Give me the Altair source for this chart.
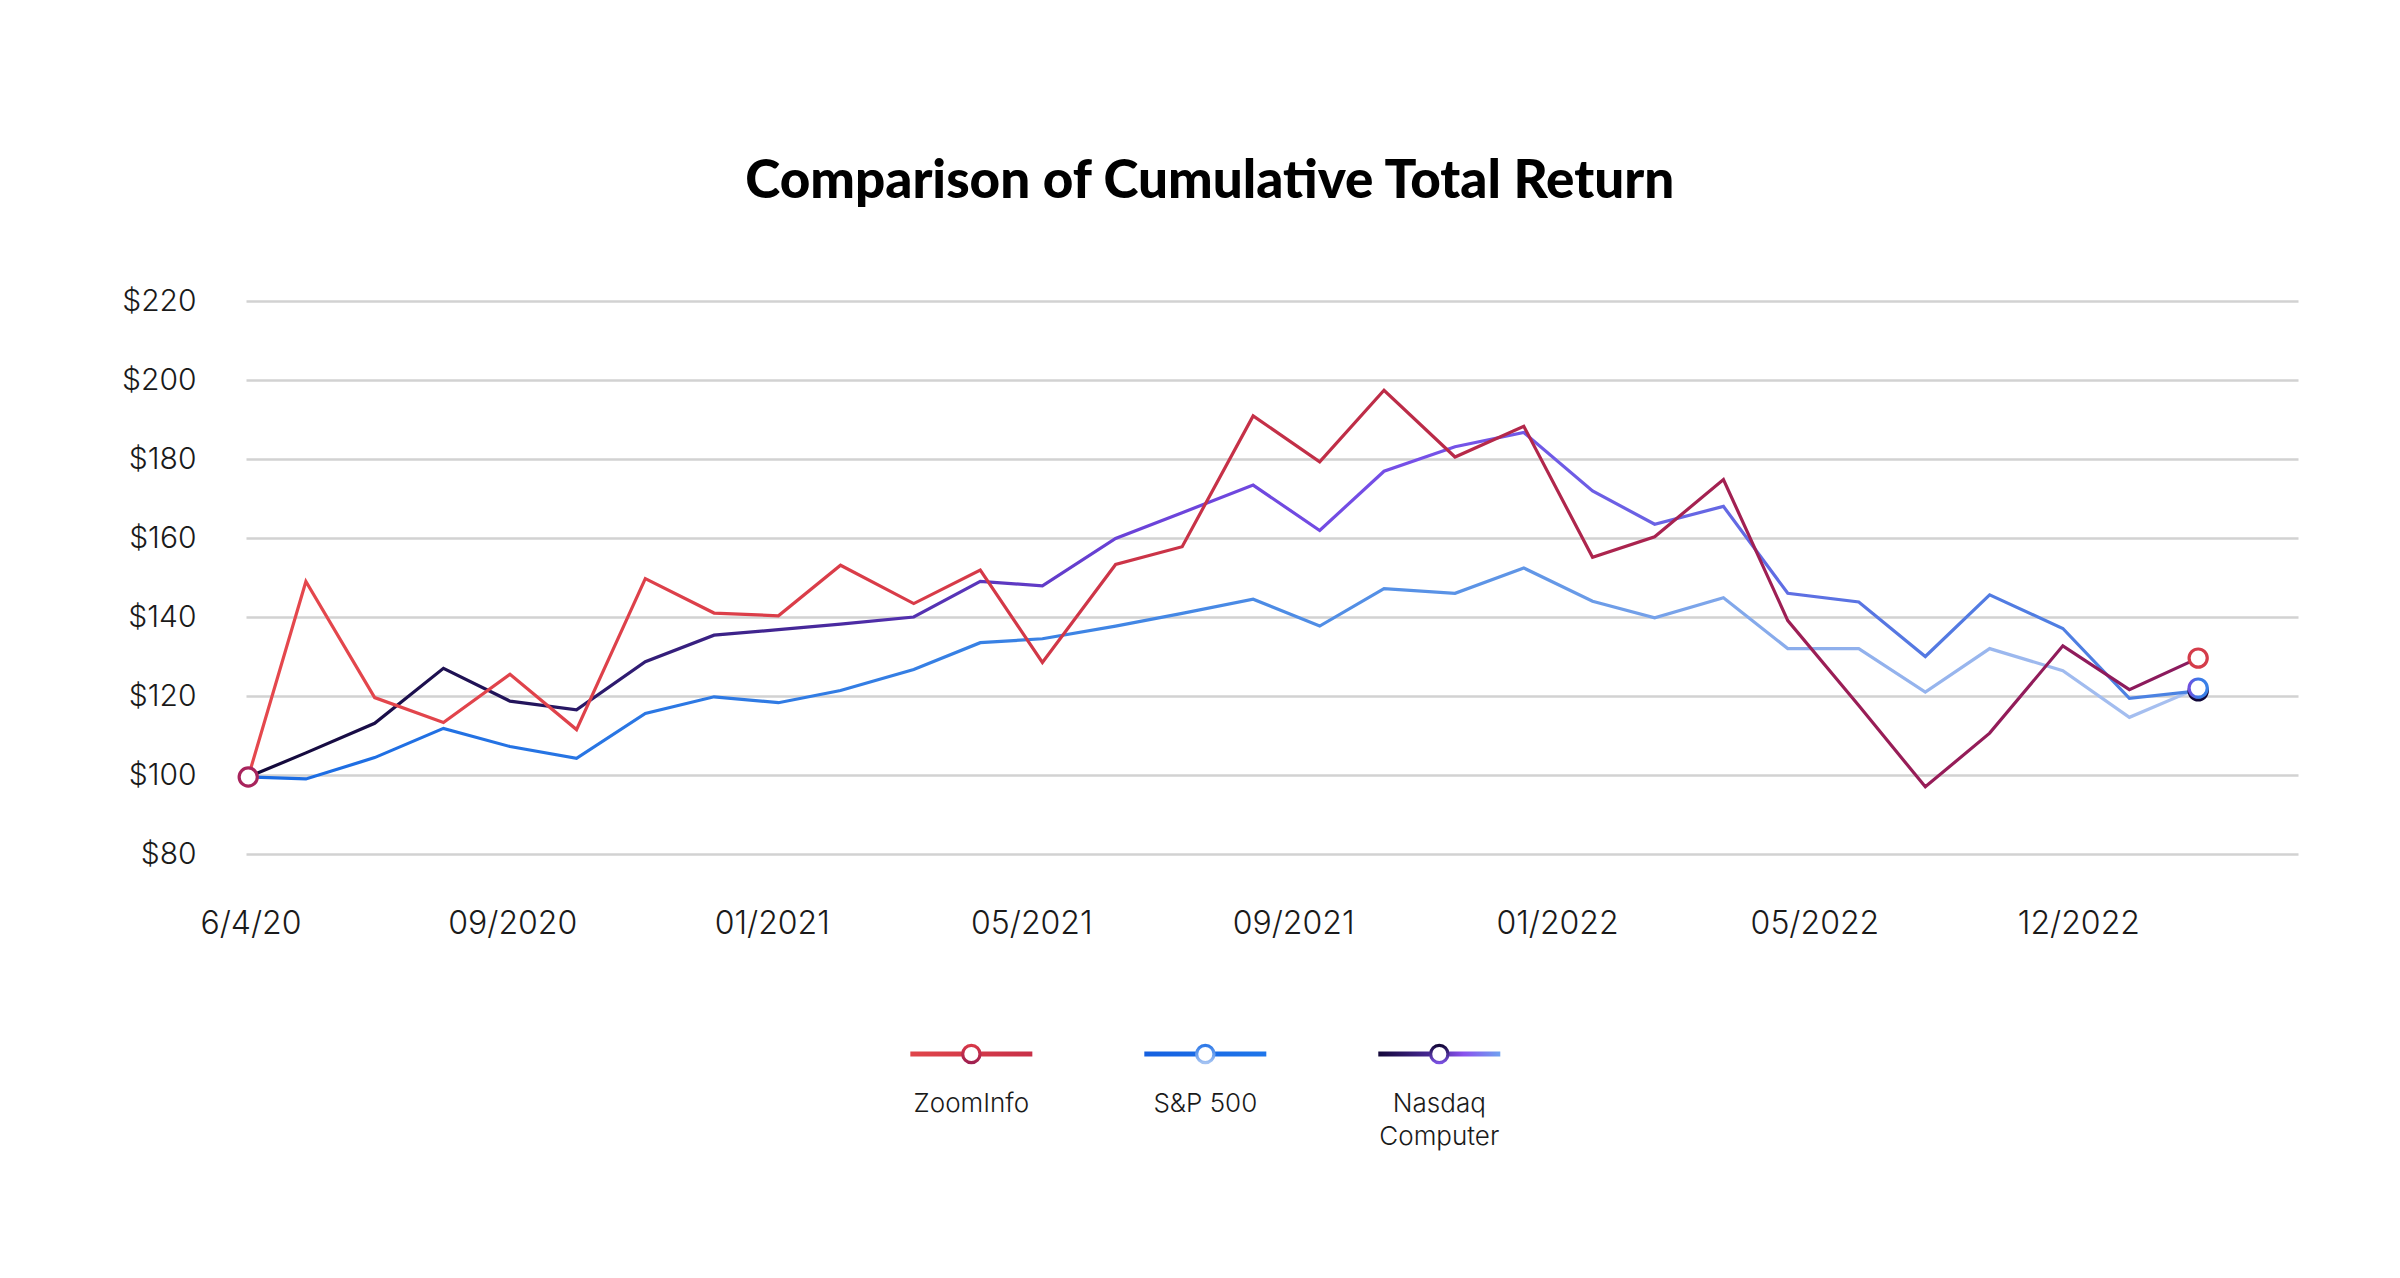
import altair as alt
import pandas as pd

# ---------------- data ----------------
dates = ["2020-06-04", "2020-06-30", "2020-07-31", "2020-08-31", "2020-09-30", "2020-10-30",
         "2020-11-30", "2020-12-31", "2021-01-29", "2021-02-26", "2021-03-31", "2021-04-30",
         "2021-05-28", "2021-06-30", "2021-07-30", "2021-08-31", "2021-09-30", "2021-10-29",
         "2021-11-30", "2021-12-31", "2022-01-31", "2022-02-28", "2022-03-31", "2022-04-29",
         "2022-05-31", "2022-06-30", "2022-07-29", "2022-08-31", "2022-09-30", "2022-10-31"]

zoominfo = [99.5, 149.0, 119.6, 113.3, 125.5, 111.5, 149.7, 141.0, 140.3, 153.1,
            143.4, 151.9, 128.5, 153.3, 157.8, 190.9, 179.3, 197.4, 180.5, 188.3,
            155.1, 160.3, 174.8, 139.1, 117.6, 97.0, 110.6, 132.7, 121.6, 129.6]

sp500 = [99.5, 99.0, 104.4, 111.8, 107.2, 104.2, 115.6, 119.8, 118.3, 121.4,
         126.7, 133.5, 134.5, 137.7, 140.9, 144.5, 137.7, 147.2, 146.0, 152.4,
         144.0, 139.8, 144.9, 132.0, 132.0, 121.0, 132.0, 126.4, 114.6, 122.0]

nasdaq = [99.5, 105.6, 113.1, 127.0, 118.7, 116.5, 128.7, 135.4, 136.8, 138.2,
          140.0, 149.0, 147.9, 159.9, 166.4, 173.4, 161.9, 176.9, 183.1, 186.7,
          171.9, 163.5, 168.0, 146.0, 143.8, 130.0, 145.6, 137.1, 119.4, 121.3]

series_names = ["ZoomInfo", "S&P 500", "Nasdaq Computer"]
legend_labels = ["ZoomInfo", "S&P 500", "Nasdaq\nComputer"]
legend_order = [0, 1, 2]

tick_dates = ["2020-06-05", "2020-10-01", "2021-01-26", "2021-05-23",
              "2021-09-18", "2022-01-15", "2022-05-11", "2022-09-07"]
tick_labels = ["6/4/20", "09/2020", "01/2021", "05/2021", "09/2021", "01/2022", "05/2022", "12/2022"]
y_ticks = [80, 100, 120, 140, 160, 180, 200, 220]

# ---------------- tables ----------------
values = {"ZoomInfo": zoominfo, "S&P 500": sp500, "Nasdaq Computer": nasdaq}
df = pd.DataFrame([
    {"date": d, "value": v, "series": s}
    for s in series_names for d, v in zip(dates, values[s])
])
ends = pd.DataFrame([
    {"date": dates[0], "value": zoominfo[0], "series": "ZoomInfo", "pt": "start"},
    {"date": dates[-1], "value": nasdaq[-1], "series": "Nasdaq Computer", "pt": "end"},
    {"date": dates[-1], "value": sp500[-1], "series": "S&P 500", "pt": "end"},
    {"date": dates[-1], "value": zoominfo[-1], "series": "ZoomInfo", "pt": "end"},
])
leg_df = pd.DataFrame({"series": series_names, "label": legend_labels, "order": legend_order})


def grad(stops, x1=0, x2=1, y1=0, y2=0):
    return alt.LinearGradient(
        gradient="linear",
        stops=[alt.GradientStop(offset=o, color=c) for o, c in stops],
        x1=x1, x2=x2, y1=y1, y2=y2,
    )


line_grads = {
    "ZoomInfo": grad([(0, "#e5484d"), (0.35, "#d83b48"), (0.6, "#bb2b47"), (0.8, "#9c1e55"), (1, "#8a1a5e")]),
    "S&P 500": grad([(0, "#1a6be3"), (0.4, "#3a82e4"), (0.65, "#5f95e6"), (0.8, "#8daeec"), (1, "#a9c1f0")]),
    "Nasdaq Computer": grad([(0, "#120838"), (0.15, "#24155e"), (0.3, "#4a2aa0"), (0.45, "#6a42d8"),
                             (0.6, "#7650e8"), (0.72, "#6a62e4"), (0.85, "#5578e2"), (1, "#4a84e2")]),
}

FONT = "Inter"

x_enc = alt.X(
    "date:T",
    scale=alt.Scale(domain=[alt.DateTime(year=2020, month=6, date=3, utc=True),
                            alt.DateTime(year=2022, month=12, date=15, utc=True)]),
    axis=alt.Axis(
        values=[alt.DateTime(year=int(t[:4]), month=int(t[5:7]), date=int(t[8:]), utc=True) for t in tick_dates],
        labelExpr="[" + ",".join("'%s'" % l for l in tick_labels) + "][round(datum.index*%d)]" % (len(tick_labels) - 1),
        title=None, grid=False, domain=False, ticks=False, tickSize=0,
        labelPadding=54, labelFontSize=32, labelFont=FONT, labelFontWeight=300,
        labelColor="#1a1a1a", labelBaseline="top", labelFlush=False, labelOverlap=False,
    ),
)
y_enc = alt.Y(
    "value:Q",
    scale=alt.Scale(domain=[80, 220], nice=False, zero=False),
    axis=alt.Axis(
        values=y_ticks, format="$d", title=None, domain=False, ticks=False, tickSize=0,
        grid=True, gridColor="#d2d2d2", gridWidth=2.5,
        labelPadding=50, labelFontSize=30, labelFont=FONT, labelFontWeight=300,
        labelColor="#1a1a1a", minExtent=122, maxExtent=122,
    ),
)

layers = []
for s in ["S&P 500", "Nasdaq Computer", "ZoomInfo"]:
    layers.append(
        alt.Chart(df).transform_filter(alt.datum.series == s)
        .mark_line(stroke=line_grads[s], strokeWidth=3.2, strokeJoin="miter")
        .encode(x=x_enc, y=y_enc)
    )

end_styles = [
    ("Nasdaq Computer", "end", "#120838"),
    ("S&P 500", "end", grad([(0, "#7050e0"), (0.5, "#3a78e6"), (1, "#3a82e8")])),
    ("ZoomInfo", "start", "#a8245c"),
    ("ZoomInfo", "end", "#d43c4a"),
]
for s, pt, col in end_styles:
    layers.append(
        alt.Chart(ends).transform_filter((alt.datum.series == s) & (alt.datum.pt == pt))
        .mark_point(shape="circle", size=330, filled=True, fill="white", stroke=col,
                    strokeWidth=3.2, opacity=1)
        .encode(x=x_enc, y=y_enc)
    )

main = alt.layer(*layers).properties(
    width=2052, height=553,
    title=alt.TitleParams(
        "Comparison of Cumulative Total Return", anchor="middle", frame="bounds", fontSize=53,
        font="Lato", fontWeight=900, color="#000000", offset=77,
    ),
)

# ---------------- legend ----------------
leg_x = alt.X("order:Q", scale=alt.Scale(domain=[-3.10, 5.67], nice=False, zero=False), axis=None)
leg_line = {
    "ZoomInfo": grad([(0, "#e0454a"), (1, "#c83048")]),
    "S&P 500": grad([(0, "#1560e0"), (1, "#1f76ea")]),
    "Nasdaq Computer": grad([(0, "#14083a"), (0.45, "#4a2a9a"), (0.7, "#8a52ee"), (1, "#6fa2f0")]),
}
leg_circle = {
    "ZoomInfo": grad([(0, "#d83848"), (1, "#a02050")], x2=0, y2=1),
    "S&P 500": grad([(0, "#2f7ae8"), (1, "#a3c2f2")], x2=0, y2=1),
    "Nasdaq Computer": grad([(0, "#14083a"), (1, "#7a50e0")], x2=0, y2=1),
}
leg_layers = []
for s in series_names:
    leg_layers.append(
        alt.Chart(leg_df).transform_filter(alt.datum.series == s)
        .mark_tick(orient="horizontal", size=122, thickness=5, color=leg_line[s], opacity=1)
        .encode(x=leg_x)
    )
for s in series_names:
    leg_layers.append(
        alt.Chart(leg_df).transform_filter(alt.datum.series == s)
        .mark_point(shape="circle", size=300, filled=True, fill="white", stroke=leg_circle[s],
                    strokeWidth=3.2, opacity=1)
        .encode(x=leg_x)
    )
leg_layers.append(
    alt.Chart(leg_df).mark_text(
        baseline="top", dy=37, fontSize=26, font=FONT, fontWeight=300, lineBreak="\n",
        lineHeight=33, color="#1a1a1a",
    ).encode(x=leg_x, text="label:N")
)
legend = alt.layer(*leg_layers).properties(width=2052, height=40)

chart = alt.vconcat(main, legend, spacing=180, bounds="flush").properties(
    padding={"left": 113, "top": 148, "right": 20, "bottom": 20},
    background="white",
).configure_view(stroke=None)

chart.save("out.html", embed_options={"renderer": "svg", "actions": False})
